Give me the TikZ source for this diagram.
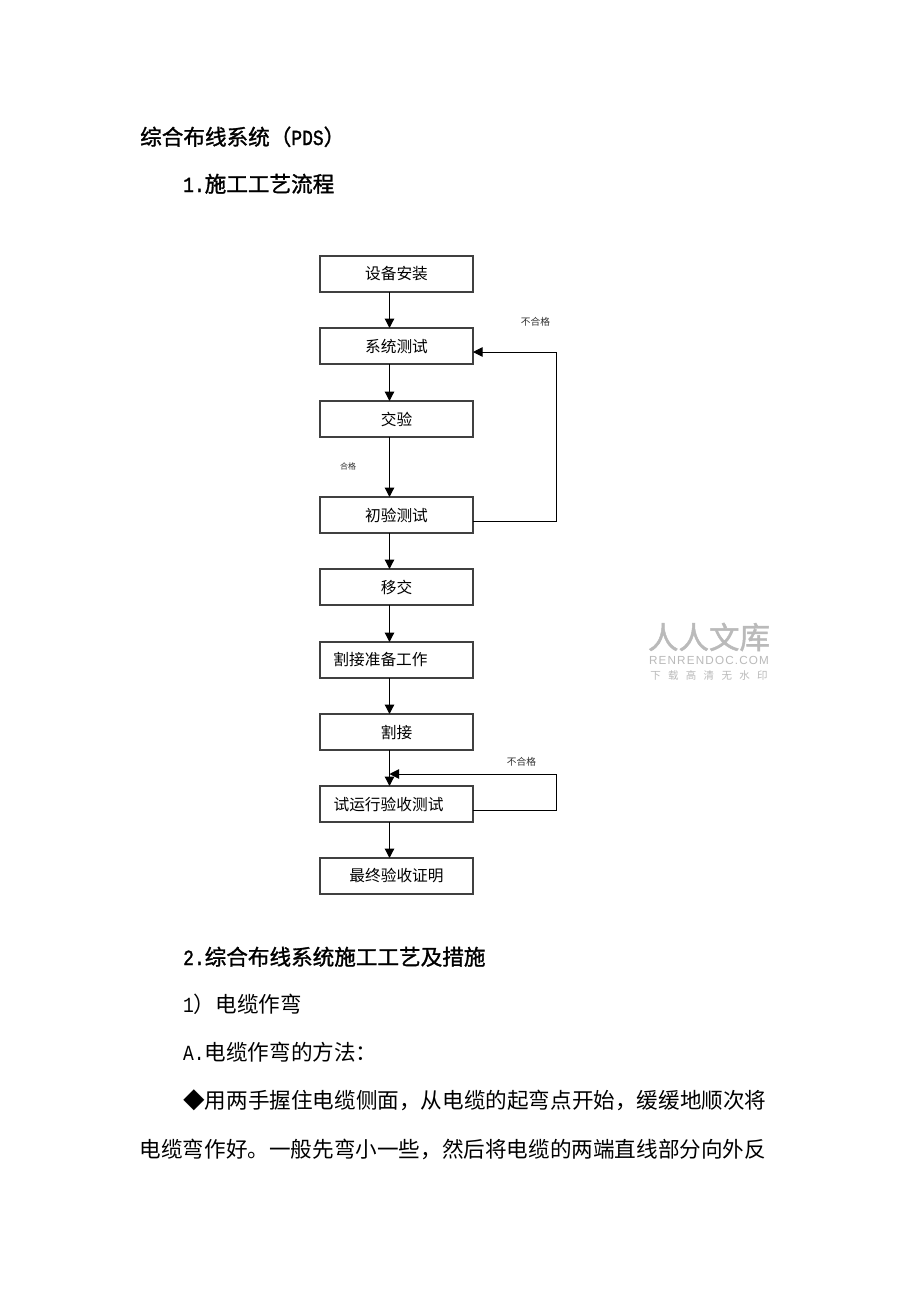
\documentclass[tikz,border=0pt]{standalone}
\usepackage{fontspec}
\usetikzlibrary{arrows.meta}
\setmainfont{Noto Sans CJK SC}
\newfontfamily\headfont[FakeBold=1.4]{Noto Sans CJK SC}
\newfontfamily\latinfont[FakeStretch=0.83]{Liberation Mono}
\newfontfamily\latinheadfont[FakeStretch=0.83,FakeBold=1.4]{Liberation Mono}
\newfontfamily\markfont[LetterSpace=10]{Liberation Sans}
\newfontfamily\markheadfont[FakeBold=1.5]{Noto Sans CJK SC}
\newcommand{\halfw}[1]{{\latinfont #1}}
\newcommand{\halfh}[1]{{\latinheadfont #1}}
\tikzset{
	flowbox/.style={draw=black!75,line width=1.2pt,minimum width=153pt,minimum height=36pt,inner sep=0pt,outer sep=0pt,font=\fontsize{15.7}{18}\selectfont},
	flowline/.style={draw=black,line width=1.2pt,-{Triangle[length=9.5pt,width=9.5pt]}},
	loopline/.style={flowline,line width=0.9pt},
	smalllabel/.style={inner sep=0pt,text=black!80,font=\fontsize{9.7}{11}\selectfont},
	bodyline/.style={anchor=base west,inner sep=0pt,font=\fontsize{21.6}{26}\selectfont},
	headline/.style={anchor=base west,inner sep=0pt,font=\headfont\fontsize{21.6}{26}\selectfont},
	watermark/.style={inner sep=0pt,text=black!27}
}
\begin{document}
\begin{tikzpicture}[x=1pt,y=-1pt]
	\fill[white] (0,0) rectangle (920,1302);
	\useasboundingbox (0,0) rectangle (920,1302);

	\node[headline] (title) at (140,145) {综合布线系统（\halfh{PDS}）};
	\node[headline] (sectionone) at (183,192) {\halfh{1.}施工工艺流程};

	\node[flowbox] (install) at (396.5,274) {设备安装};
	\node[flowbox] (systest) at (396.5,346) {系统测试};
	\node[flowbox] (handover) at (396.5,419) {交验};
	\node[flowbox] (firsttest) at (396.5,515) {初验测试};
	\node[flowbox] (transfer) at (396.5,587) {移交};
	\node[flowbox] (prepare) at (396.5,660) {割接准备工作\hspace*{32pt}};
	\node[flowbox] (cutover) at (396.5,732) {割接};
	\node[flowbox] (trialrun) at (396.5,804) {试运行验收测试\hspace*{16pt}};
	\node[flowbox] (certify) at (396.5,876) {最终验收证明};

	\node[smalllabel] (failone) at (535.5,322) {不合格};
	\node[smalllabel,font=\fontsize{8}{10}\selectfont] (passone) at (348,466) {合格};
	\node[smalllabel] (failtwo) at (521.5,762) {不合格};

	\coordinate (loopone) at (556,521);
	\coordinate (looptop) at (556,352);
	\coordinate (looptwo) at (556,810);
	\coordinate (loopback) at (556,774);
	\coordinate (loopend) at (389.5,774);

	\draw[flowline] ([xshift=-7pt]install.south) -- ([xshift=-7pt]systest.north);
	\draw[flowline] ([xshift=-7pt]systest.south) -- ([xshift=-7pt]handover.north);
	\draw[flowline] ([xshift=-7pt]handover.south) -- ([xshift=-7pt]firsttest.north);
	\draw[flowline] ([xshift=-7pt]firsttest.south) -- ([xshift=-7pt]transfer.north);
	\draw[flowline] ([xshift=-7pt]transfer.south) -- ([xshift=-7pt]prepare.north);
	\draw[flowline] ([xshift=-7pt]prepare.south) -- ([xshift=-7pt]cutover.north);
	\draw[flowline] ([xshift=-7pt]cutover.south) -- ([xshift=-7pt]trialrun.north);
	\draw[flowline] ([xshift=-7pt]trialrun.south) -- ([xshift=-7pt]certify.north);

	\draw[loopline] ([yshift=-6pt]firsttest.east) -- (loopone) -- (looptop) -- ([yshift=-6pt]systest.east);
	\draw[loopline] ([yshift=-6pt]trialrun.east) -- (looptwo) -- (loopback) -- (loopend);

	\node[headline] (sectiontwo) at (183,965) {\halfh{2.}综合布线系统施工工艺及措施};
	\node[bodyline] (stepone) at (183,1012) {\halfw{1}）电缆作弯};
	\node[bodyline] (stepa) at (183,1060) {\halfw{A.}电缆作弯的方法：};
	\node[bodyline] (paraone) at (183,1108) {◆用两手握住电缆侧面，从电缆的起弯点开始，缓缓地顺次将};
	\node[bodyline] (paratwo) at (139.5,1157) {电缆弯作好。一般先弯小一些，然后将电缆的两端直线部分向外反};

	\node[watermark,font=\markheadfont\fontsize{30.5}{34}\selectfont] (markname) at (709,637) {人人文库};
	\node[watermark,font=\markfont\fontsize{11.7}{13}\selectfont] (markurl) at (709,660) {RENRENDOC.COM};
	\node[watermark,font=\fontsize{10.5}{12}\selectfont] (marknote) at (709,675) {下\hspace{7.3pt}载\hspace{7.3pt}高\hspace{7.3pt}清\hspace{7.3pt}无\hspace{7.3pt}水\hspace{7.3pt}印};
\end{tikzpicture}
\end{document}
